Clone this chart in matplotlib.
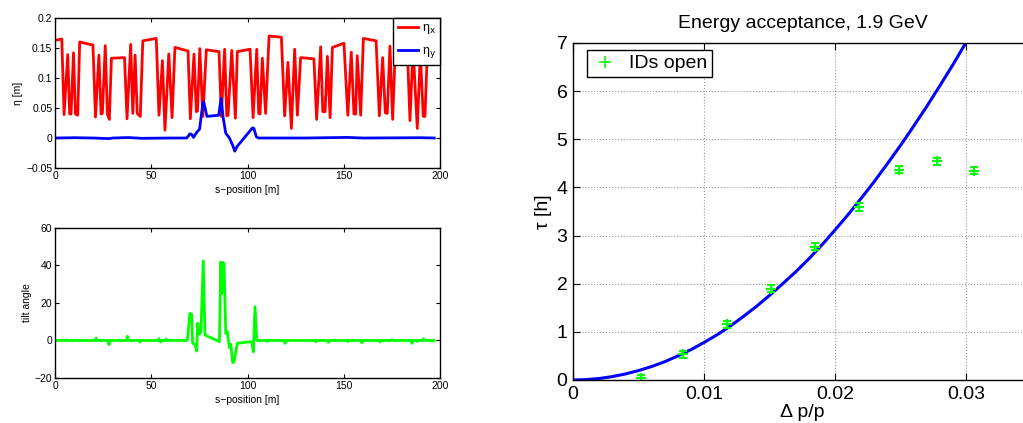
import matplotlib
matplotlib.use("Agg")
from matplotlib import pyplot as plt
from matplotlib.lines import Line2D

plt.rcParams['font.family'] = ['Liberation Sans', 'DejaVu Sans']

# dispersion along the ring
s_x = [0, 3.5, 4.7, 6.6, 7.6, 8.3, 9.6, 10.6, 11.8, 12.8, 19.7, 21.0, 22.8, 23.9, 24.6,
       26.1, 27.2, 28.2, 29.3, 36.1, 37.4, 39.3, 40.4, 41.6, 42.7, 44.3, 45.6, 52.6, 54.0,
       55.8, 57.1, 59.1, 60.8, 62.3, 69.1, 70.3, 72.2, 73.4, 74.0, 75.2, 76.8, 78.6, 85.2,
       86.4, 88.1, 89.2, 89.9, 91.8, 93.7, 94.7, 101.3, 102.9, 104.8, 105.8, 106.5, 107.7,
       109.4, 111.2, 117.6, 119.3, 121.0, 122.8, 124.5, 125.9, 127.6, 134.5, 135.9, 138.0,
       139.1, 140.3, 141.5, 142.9, 144.1, 150.1, 152.1, 153.9, 155.3, 156.2, 157.0, 158.8,
       160.2, 166.8, 168.5, 170.2, 171.6, 172.6, 174.0, 175.4, 176.6, 183.2, 184.4, 186.0,
       188.2, 189.8, 191.3, 192.2, 193.6, 196.5]
eta_x = [0.163, 0.165, 0.039, 0.139, 0.040, 0.040, 0.142, 0.040, 0.038, 0.160, 0.155, 0.035,
         0.138, 0.040, 0.041, 0.154, 0.040, 0.031, 0.133, 0.134, 0.032, 0.156, 0.041, 0.138,
         0.041, 0.036, 0.162, 0.166, 0.038, 0.129, 0.013, 0.140, 0.034, 0.151, 0.145, 0.032,
         0.140, 0.044, 0.045, 0.149, 0.036, 0.147, 0.144, 0.036, 0.148, 0.037, 0.038, 0.146,
         0.033, 0.144, 0.148, 0.034, 0.148, 0.041, 0.040, 0.133, 0.041, 0.170, 0.168, 0.037,
         0.126, 0.016, 0.148, 0.038, 0.134, 0.132, 0.031, 0.152, 0.044, 0.044, 0.136, 0.034,
         0.151, 0.158, 0.038, 0.143, 0.040, 0.040, 0.137, 0.038, 0.166, 0.162, 0.037, 0.134,
         0.042, 0.041, 0.153, 0.031, 0.133, 0.133, 0.029, 0.150, 0.016, 0.140, 0.036, 0.036,
         0.160, 0.163]

s_y = [0, 10, 20, 28, 30, 38, 45, 60, 68.4, 70.1, 71.0, 71.9, 73.5, 75.1, 76.8, 77.3, 78.9,
       85.0, 86.3, 87.3, 88.7, 90.6, 92.4, 93.4, 94.6, 102.6, 103.3, 104.6, 105.6, 130, 152,
       160, 190, 197]
eta_y = [0.0, 0.0005, 0.0, -0.001, 0.0, 0.0008, -0.0005, 0.0, 0.0, 0.007, 0.006, 0.001,
         0.009, 0.015, 0.058, 0.060, 0.036, 0.038, 0.066, 0.035, 0.008, 0.0, -0.013, -0.022,
         -0.014, 0.017, 0.016, 0.002, 0.0, 0.0, 0.001, 0.0, 0.0005, 0.0]

s_t = [0, 5.2, 5.7, 6.2, 10.5, 11, 11.5, 20.8, 21.3, 21.8, 27.5, 28, 28.5, 37.1, 37.6, 38.1,
       43.7, 44.2, 44.7, 53.5, 54, 54.9, 55.4, 57.2, 57.7, 58.2, 68.7, 70.1, 71.0, 71.5,
       72.7, 73.6, 74.1, 75.0, 75.8, 77.0, 77.9, 85.4, 86.1, 86.6, 87.1, 87.8, 88.7, 89.5,
       90.6, 91.3, 92.3, 93.0, 94.7, 102.2, 103.0, 103.9, 104.8, 109.5, 110, 110.5, 119.0,
       119.5, 120.0, 135.0, 135.5, 136.0, 141.5, 142, 142.5, 151.5, 152, 152.5, 159.0, 159.5,
       160.0, 168.5, 169, 169.5, 174.5, 175, 175.5, 185.0, 185.5, 186.0, 187.5, 188, 188.5,
       191.0, 191.5, 192.0, 197]
tilt = [0, 0, 0.3, 0, 0, 0.2, 0, 0, 1.3, 0, 0, -2.2, 0, 0, 2.2, 0, 0, -0.8, 0, 0, 1, -0.8,
        0, 0, 0.8, 0, 0, 14.5, 14, -1.5, -2, -5.6, 9.2, 3.3, 4.5, 42.4, 2.9, -0.6, 41.7, 25,
        41.7, 41, 3.8, 4.6, -3.8, -2, -11.8, -11.3, -1.5, -0.6, -6, 18, 0, 0, -0.5, 0, 0, -1.5,
        0, 0, -0.7, 0, 0, -1, 0, 0, -0.6, 0, 0, -1.2, 0, 0, -0.8, 0, 0, 0.5, 0, 0, -1.5, 0, 0,
        -0.5, 0, 0, 1, 0, 0]

# energy acceptance measurement
dpp = [0.00517, 0.00841, 0.01178, 0.01514, 0.01843, 0.02179, 0.02483, 0.02778, 0.03059]
tau = [0.035, 0.53, 1.16, 1.90, 2.77, 3.59, 4.37, 4.54, 4.35]
tau_err = [0.06, 0.07, 0.07, 0.07, 0.08, 0.08, 0.08, 0.08, 0.08]

dpp_fit = [0, 0.001, 0.002, 0.003, 0.004, 0.005, 0.006, 0.007, 0.008, 0.009, 0.010, 0.011,
           0.012, 0.013, 0.014, 0.015, 0.016, 0.017, 0.018, 0.019, 0.020, 0.021, 0.022,
           0.023, 0.024, 0.025, 0.026, 0.027, 0.028, 0.029, 0.030, 0.031]
tau_fit = [0, 0.008, 0.031, 0.07, 0.125, 0.195, 0.28, 0.38, 0.5, 0.63, 0.78, 0.94, 1.12,
           1.32, 1.53, 1.76, 2.0, 2.25, 2.52, 2.81, 3.12, 3.44, 3.78, 4.13, 4.5, 4.88, 5.28,
           5.69, 6.12, 6.56, 7.02, 7.5]

fig = plt.figure(figsize=(10.23, 4.23), dpi=100)

small = 7.5
ax1 = fig.add_axes([0.0538, 0.6028, 0.3763, 0.3546])
ax1.plot(s_x, eta_x, color='red', lw=2, label='\u03b7$_{\\rm x}$')
ax1.plot(s_y, eta_y, color='blue', lw=2, label='\u03b7$_{\\rm y}$')
ax1.set_ylim(-0.05, 0.2)
ax1.set_yticks([-0.05, 0, 0.05, 0.1, 0.15, 0.2])
ax1.set_yticklabels(['\u22120.05', '0', '0.05', '0.1', '0.15', '0.2'])
ax1.set_ylabel('\u03b7 [m]', fontsize=small, labelpad=2)
leg = ax1.legend(loc='upper right', fontsize=9, fancybox=False, framealpha=1,
                 borderaxespad=0, handlelength=1.6, handletextpad=0.3, borderpad=0.35,
                 labelspacing=0.7)
leg.get_frame().set_edgecolor('black')
leg.get_frame().set_linewidth(1)

ax2 = fig.add_axes([0.0538, 0.1064, 0.3763, 0.3546])
ax2.plot(s_t, tilt, color=(0, 1, 0), lw=2)
ax2.set_ylim(-20, 60)
ax2.set_yticks([-20, 0, 20, 40, 60])
ax2.set_yticklabels(['\u221220', '0', '20', '40', '60'])
ax2.set_ylabel('tilt angle', fontsize=small, labelpad=2)

for ax in (ax1, ax2):
    ax.set_xlim(0, 200)
    ax.set_xticks([0, 50, 100, 150, 200])
    ax.set_xlabel('s\u2212position [m]', fontsize=small, labelpad=3)
    ax.tick_params(direction='in', top=True, right=True, labelsize=small, length=3, pad=2)
    for sp in ax.spines.values():
        sp.set_linewidth(1)

big = 14
ax3 = fig.add_axes([0.5601, 0.1017, 0.4486, 0.7967])
ax3.plot(dpp_fit, tau_fit, color='blue', lw=2.2)
ax3.errorbar(dpp, tau, yerr=tau_err, fmt='+', color=(0, 1, 0), ms=7, mew=1.5,
             elinewidth=1.5, capsize=3, capthick=1.5)
ax3.set_xlim(0, 0.035)
ax3.set_ylim(0, 7)
ax3.set_xticks([0, 0.01, 0.02, 0.03])
ax3.set_xticklabels(['0', '0.01', '0.02', '0.03'])
ax3.set_yticks(range(8))
ax3.grid(True, linestyle=':', color='0.6', lw=0.8)
ax3.tick_params(direction='in', top=True, right=True, labelsize=big, length=5, pad=4)
ax3.set_title('Energy acceptance, 1.9 GeV', fontsize=big, pad=11)
ax3.set_xlabel('\u0394 p/p', fontsize=big, labelpad=1)
ax3.set_ylabel('\u03c4 [h]', fontsize=big, labelpad=3)
for sp in ax3.spines.values():
    sp.set_linewidth(1)
h = Line2D([], [], ls='none', marker='+', color=(0, 1, 0), ms=9, mew=1.2)
leg3 = ax3.legend([h], ['IDs open'], loc='upper left', fontsize=big, fancybox=False,
                  framealpha=1, bbox_to_anchor=(14 / 459, 1 - 7 / 337), borderaxespad=0,
                  handlelength=1.4, handletextpad=0.5, borderpad=0.25)
leg3.get_frame().set_edgecolor('black')
leg3.get_frame().set_linewidth(1)

fig.savefig('out.png', dpi=100)
